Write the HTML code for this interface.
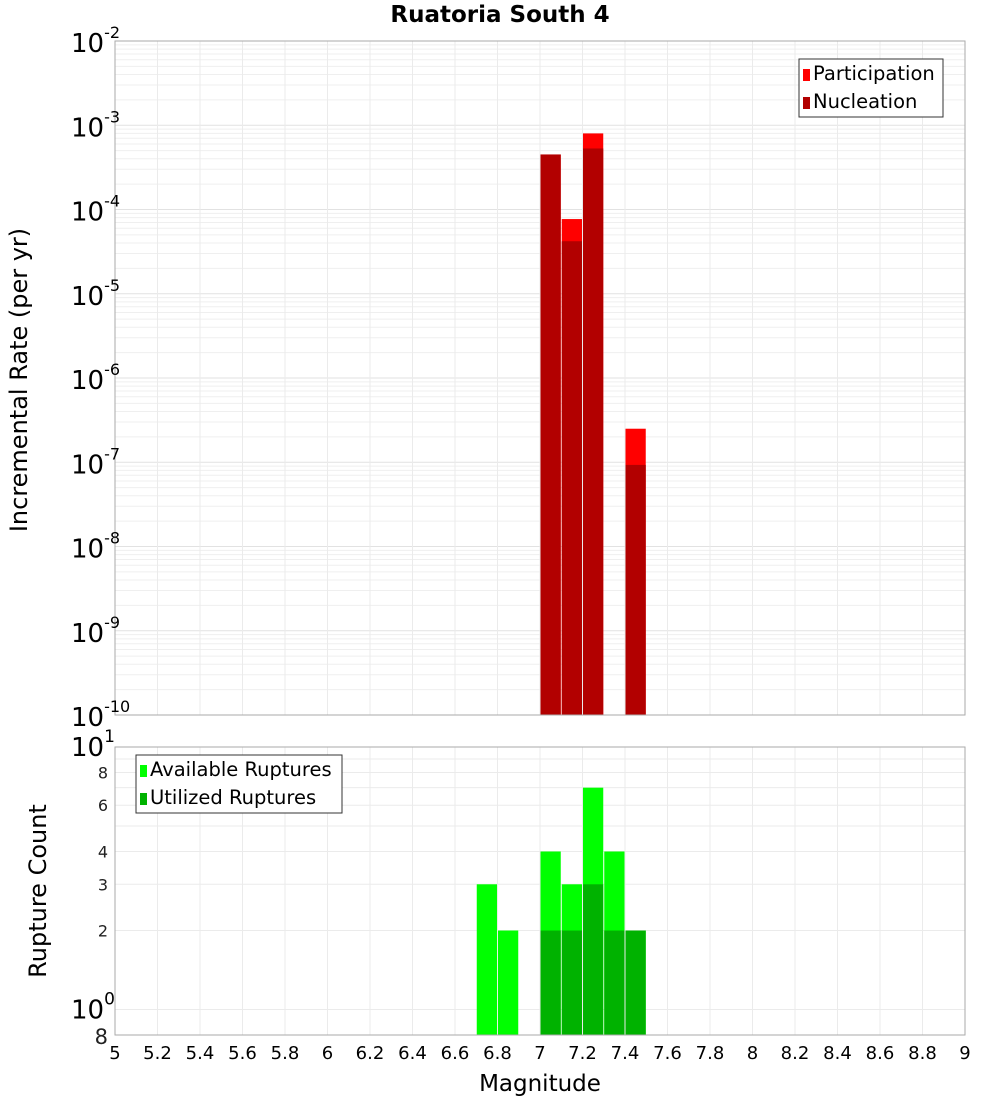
<!DOCTYPE html>
<html><head><meta charset="utf-8"><style>
body{margin:0;background:#fff}
svg{font-family:"DejaVu Sans","Liberation Sans",sans-serif}
</style></head><body>
<svg id="c" width="1000" height="1100" xmlns="http://www.w3.org/2000/svg"></svg>
<script>
const bins=[6.75,6.85,7.05,7.15,7.25,7.35,7.45];
const participation=[0,0,4.5e-4,7.7e-5,8.0e-4,0,2.5e-7];
const nucleation=[0,0,4.5e-4,4.2e-5,5.3e-4,0,9.3e-8];
const available=[3,2,4,3,7,4,2];
const utilized=[0,0,2,2,3,2,2];
const xTicks=[5,5.2,5.4,5.6,5.8,6,6.2,6.4,6.6,6.8,7,7.2,7.4,7.6,7.8,8,8.2,8.4,8.6,8.8,9];
const topExp=[-2,-3,-4,-5,-6,-7,-8,-9,-10];
const botTicks=[8,6,4,3,2,0.8];

const NS="http://www.w3.org/2000/svg";
const svg=document.getElementById('c');
function el(t,a,p){const e=document.createElementNS(NS,t);for(const k in a)e.setAttribute(k,a[k]);(p||svg).appendChild(e);return e;}
const X0=115,X1=965;
const x=m=>X0+(m-5)/4*(X1-X0);
const T0=41,T1=715;
const yT=v=>T0+(-2-Math.log10(v))/8*(T1-T0);
const B0=747,B1=1035;
const yB=v=>B0+(1-Math.log10(v))/(1-Math.log10(0.8))*(B1-B0);

for(let e=-10;e<-2;e++)for(let k=1;k<10;k++){const y=yT(k*Math.pow(10,e));const g=el('line',{x1:X0,x2:X1,y1:y,y2:y,stroke:k==1?'#e2e2e2':'#efefef','stroke-width':1});}
xTicks.forEach(t=>{const g=el('line',{x1:x(t),x2:x(t),y1:T0,y2:T1,stroke:'#ebebeb'});
const h=el('line',{x1:x(t),x2:x(t),y1:B0,y2:B1,stroke:'#ebebeb'});});
for(let v=1;v<=10;v++){const y=yB(v);const g=el('line',{x1:X0,x2:X1,y1:y,y2:y,stroke:'#ebebeb'});}

const bw=(x(0.1)-x(0))-1;
bins.forEach((b,i)=>{
 if(participation[i]>0){const r=el('rect',{x:x(b)-bw/2,y:yT(participation[i]),width:bw,height:T1-yT(participation[i]),fill:'#ff0000'});}
 if(nucleation[i]>0){const r=el('rect',{x:x(b)-bw/2,y:yT(nucleation[i]),width:bw,height:T1-yT(nucleation[i]),fill:'#b20000'});}
 if(available[i]>0){const r=el('rect',{x:x(b)-bw/2,y:yB(available[i]),width:bw,height:B1-yB(available[i]),fill:'#00ff00'});}
 if(utilized[i]>0){const r=el('rect',{x:x(b)-bw/2,y:yB(utilized[i]),width:bw,height:B1-yB(utilized[i]),fill:'#00b200'});}
});
let f=el('rect',{x:X0,y:T0,width:X1-X0,height:T1-T0,fill:'none',stroke:'#aaa'});
f=el('rect',{x:X0,y:B0,width:X1-X0,height:B1-B0,fill:'none',stroke:'#aaa'});

function txt(s,a,name){const t=el('text',a);t.textContent=s;return t;}
topExp.forEach(e=>{const y=yT(Math.pow(10,e));
 const t=txt('10',{x:71,y:y+11,'font-size':26,fill:'#000'},'top-y-tick-label');
 const s=el('tspan',{dy:-14,'font-size':16},t);s.textContent=String(e);
});
botTicks.forEach(v=>{const y=yB(v);const big=(v==0.8);
 txt(String(v==0.8?8:v),{x:108,y:y+6+(big?3:0),'font-size':big?21:16,'text-anchor':'end',fill:'#222'},'bottom-y-tick-label');});
[[10,'1'],[1,'0']].forEach(([v,e])=>{const y=yB(v);const t=txt('10',{x:71,y:y+9,'font-size':26,fill:'#000'},'bottom-y-tick-label');const s=el('tspan',{dy:-14,'font-size':17},t);s.textContent=e;});
xTicks.forEach(t=>txt(String(t),{x:x(t),y:1059,'font-size':18,'text-anchor':'middle',fill:'#000'},'x-tick-label'));
txt('Ruatoria South 4',{x:500,y:22,'font-size':23,'font-weight':'bold','text-anchor':'middle'},'chart-title');
txt('Magnitude',{x:540,y:1091,'font-size':23,'text-anchor':'middle'},'x-axis-title');
txt('Incremental Rate (per yr)',{x:0,y:0,'font-size':24,'text-anchor':'middle',transform:'translate(27,380) rotate(-90)'},'top-y-axis-title');
txt('Rupture Count',{x:0,y:0,'font-size':24,'text-anchor':'middle',transform:'translate(46,891) rotate(-90)'},'bottom-y-axis-title');
function legend(x0,y0,w,h,items,name){const g=el('g',{});
 el('rect',{x:x0,y:y0,width:w,height:h,fill:'#fff',stroke:'#333'},g);
 items.forEach(([c,s],i)=>{el('rect',{x:x0+4,y:y0+10+i*28,width:7,height:12,fill:c},g);const t=el('text',{x:x0+14,y:y0+21+i*28,'font-size':19.5},g);t.textContent=s;});}
legend(799,59,144,58,[['#ff0000','Participation'],['#b20000','Nucleation']],'top-legend');
legend(136,755,206,58,[['#00ff00','Available Ruptures'],['#00b200','Utilized Ruptures']],'bottom-legend');
</script>
</body></html>
